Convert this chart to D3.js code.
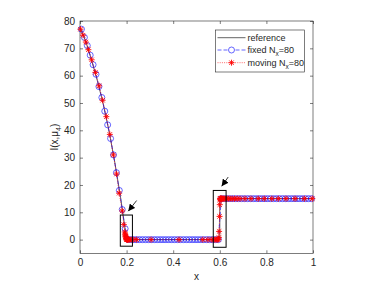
<!DOCTYPE html>
<html>
<head>
<meta charset="utf-8">
<script src="https://cdn.jsdelivr.net/npm/d3@7"></script>
<style>
  body { margin: 0; background: #fff; }
  svg { font-family: "Liberation Sans", Arial, sans-serif; }
  .tick text { fill: #262626; font-size: 10px; }
</style>
</head>
<body>
<div id="chart"></div>
<script>
// reference solution (piecewise)
var refX = [0, 0.025, 0.05, 0.075, 0.1, 0.125, 0.15, 0.175, 0.2, 0.6, 0.6, 1];
var refY = [77.5, 72.5, 65.5, 58, 49.5, 39.5, 28, 15, 0, 0, 15, 15];

// fixed mesh, Nx = 80 (cell centres)
var fixedX = [
  0.00625, 0.01875, 0.03125, 0.04375, 0.05625, 0.06875, 0.08125, 0.09375,
  0.10625, 0.11875, 0.13125, 0.14375, 0.15625, 0.16875, 0.18125, 0.19375,
  0.20625, 0.21875, 0.23125, 0.24375, 0.25625, 0.26875, 0.28125, 0.29375,
  0.30625, 0.31875, 0.33125, 0.34375, 0.35625, 0.36875, 0.38125, 0.39375,
  0.40625, 0.41875, 0.43125, 0.44375, 0.45625, 0.46875, 0.48125, 0.49375,
  0.50625, 0.51875, 0.53125, 0.54375, 0.55625, 0.56875, 0.58125, 0.59375,
  0.60625, 0.61875, 0.63125, 0.64375, 0.65625, 0.66875, 0.68125, 0.69375,
  0.70625, 0.71875, 0.73125, 0.74375, 0.75625, 0.76875, 0.78125, 0.79375,
  0.80625, 0.81875, 0.83125, 0.84375, 0.85625, 0.86875, 0.88125, 0.89375,
  0.90625, 0.91875, 0.93125, 0.94375, 0.95625, 0.96875, 0.98125, 0.99375
];
var fixedY = [
  77, 74, 71, 67.5, 64, 60.5, 56, 52,
  47, 42, 37, 31, 24.5, 18, 11, 4,
  0, 0, 0, 0, 0, 0, 0, 0,
  0, 0, 0, 0, 0, 0, 0, 0,
  0, 0, 0, 0, 0, 0, 0, 0,
  0, 0, 0, 0, 0, 0, 0, 0,
  15, 15, 15, 15, 15, 15, 15, 15,
  15, 15, 15, 15, 15, 15, 15, 15,
  15, 15, 15, 15, 15, 15, 15, 15,
  15, 15, 15, 15, 15, 15, 15, 15
];

// moving mesh, Nx = 80 (nodes cluster at the two kinks)
var movingX = [
  0.002, 0.013, 0.025, 0.036, 0.050, 0.066, 0.082, 0.097, 0.113, 0.128,
  0.143, 0.157, 0.168, 0.181, 0.188, 0.192, 0.194, 0.195, 0.196, 0.197,
  0.198, 0.199, 0.200, 0.201, 0.202, 0.203, 0.204, 0.206, 0.209, 0.213,
  0.219, 0.228, 0.243, 0.305, 0.425, 0.527, 0.549, 0.566, 0.576, 0.583,
  0.588, 0.592, 0.594, 0.596, 0.597, 0.599, 0.600, 0.601, 0.602, 0.603,
  0.604, 0.605, 0.606, 0.608, 0.611, 0.614, 0.618, 0.623, 0.629, 0.636,
  0.644, 0.653, 0.663, 0.675, 0.687, 0.708, 0.734, 0.765, 0.791, 0.823,
  0.851, 0.884, 0.923, 0.963, 0.997
];
var movingY = [
  77, 74.8, 72.3, 69.5, 65.8, 61.2, 56.3, 51, 45, 38.5,
  31, 24, 17, 10.5, 5.5, 2.8, 2, 1.6, 1.2, 0.9,
  0.5, 0.3, 0.1, 0, 0, 0, 0, 0, 0, 0,
  0, 0, 0, 0, 0, 0, 0, 0, 0, 0,
  0, 0, 0.2, 0.8, 3, 8.5, 12.8, 14.6, 15, 15,
  15, 15, 15, 15, 15, 15, 15, 15, 15, 15,
  15, 15, 15, 15, 15, 15, 15, 15, 15, 15,
  15, 15, 15, 15, 15
];

var xTicks = [0, 0.2, 0.4, 0.6, 0.8, 1];
var yTicks = [0, 10, 20, 30, 40, 50, 60, 70, 80];

// zoom boxes [x0, x1, y0, y1] and arrows [xTail, yTail, xTip, yTip] in data units
var boxes = [[0.173, 0.225, -2.4, 9], [0.572, 0.627, -2.8, 18]];
var arrows = [[0.243, 14.3, 0.207, 10.4], [0.636, 22.9, 0.608, 19.5]];

var legendLabels = ["reference", "fixed N", "moving N"];

var width = 380, height = 285;
var svg = d3.select("#chart").append("svg")
    .attr("width", width)
    .attr("height", height);

var x = d3.scaleLinear().domain([0, 1]).range([80, 313]);
var y = d3.scaleLinear().domain([-5, 80]).range([253.3, 21]);

var axisColor = "#262626";

// axes (ticks point inward, MATLAB style with box on)
svg.append("g")
    .attr("transform", "translate(0," + y(-5) + ")")
    .call(d3.axisBottom(x).tickValues(xTicks).tickSize(-3).tickPadding(6)
        .tickFormat(function (d) { return d === 0 || d === 1 ? d : d3.format(".1f")(d); }));
svg.append("g")
    .attr("transform", "translate(0," + y(80) + ")")
    .call(d3.axisTop(x).tickValues(xTicks).tickSize(-3).tickFormat(""));
svg.append("g")
    .attr("transform", "translate(" + x(0) + ",0)")
    .call(d3.axisLeft(y).tickValues(yTicks).tickSize(-3).tickPadding(5));
svg.append("g")
    .attr("transform", "translate(" + x(1) + ",0)")
    .call(d3.axisRight(y).tickValues(yTicks).tickSize(-3).tickFormat(""));

svg.selectAll(".domain").remove();
svg.selectAll(".tick line").attr("stroke", axisColor).attr("stroke-width", 0.6);

svg.append("rect")
    .attr("x", x(0)).attr("y", y(80))
    .attr("width", x(1) - x(0)).attr("height", y(-5) - y(80))
    .attr("fill", "none").attr("stroke", axisColor).attr("stroke-width", 0.6);

// axis labels
svg.append("text")
    .attr("x", (x(0) + x(1)) / 2).attr("y", 280)
    .attr("text-anchor", "middle")
    .attr("font-size", 10).attr("fill", axisColor)
    .text("x");

var yl = svg.append("text")
    .attr("transform", "translate(58," + ((y(-5) + y(80)) / 2) + ") rotate(-90)")
    .attr("text-anchor", "middle")
    .attr("font-size", 10).attr("fill", axisColor);
yl.append("tspan").text("I(x,\u03bc");
yl.append("tspan").attr("font-size", 7).attr("dy", 3).text("4");
yl.append("tspan").attr("dy", -3).text(")");

// lines
var line = d3.line()
    .x(function (d) { return x(d[0]); })
    .y(function (d) { return y(d[1]); });

var refData = refX.map(function (v, i) { return [v, refY[i]]; });
var fixedData = fixedX.map(function (v, i) { return [v, fixedY[i]]; });
var movingData = movingX.map(function (v, i) { return [v, movingY[i]]; });

svg.append("path").datum(refData)
    .attr("d", line).attr("fill", "none")
    .attr("stroke", "#222").attr("stroke-width", 0.7);

svg.append("path").datum(fixedData)
    .attr("d", line).attr("fill", "none")
    .attr("stroke", "#0000ff").attr("stroke-width", 0.6)
    .attr("stroke-dasharray", "4,2");

svg.selectAll("circle.fixed").data(fixedData).enter()
    .append("circle").attr("class", "fixed")
    .attr("cx", function (d) { return x(d[0]); })
    .attr("cy", function (d) { return y(d[1]); })
    .attr("r", 3)
    .attr("fill", "none").attr("stroke", "#0000ff").attr("stroke-width", 0.6);

svg.append("path").datum(movingData)
    .attr("d", line).attr("fill", "none")
    .attr("stroke", "#ff0000").attr("stroke-width", 0.6)
    .attr("stroke-dasharray", "1,1.2");

// asterisk marker: plus and cross
var starPath = "M-3,0L3,0M0,-3L0,3M-2.2,-2.2L2.2,2.2M-2.2,2.2L2.2,-2.2";
svg.selectAll("path.moving").data(movingData).enter()
    .append("path").attr("class", "moving")
    .attr("transform", function (d) { return "translate(" + x(d[0]) + "," + y(d[1]) + ")"; })
    .attr("d", starPath)
    .attr("stroke", "#ff0000").attr("stroke-width", 0.9).attr("fill", "none");

// zoom boxes
svg.selectAll("rect.zoombox").data(boxes).enter()
    .append("rect").attr("class", "zoombox")
    .attr("x", function (d) { return x(d[0]); })
    .attr("y", function (d) { return y(d[3]); })
    .attr("width", function (d) { return x(d[1]) - x(d[0]); })
    .attr("height", function (d) { return y(d[2]) - y(d[3]); })
    .attr("fill", "none").attr("stroke", "#000").attr("stroke-width", 1);

// arrows
svg.append("defs").append("marker")
    .attr("id", "head")
    .attr("viewBox", "0 0 10 10")
    .attr("refX", 10).attr("refY", 5)
    .attr("markerWidth", 7).attr("markerHeight", 7)
    .attr("markerUnits", "userSpaceOnUse")
    .attr("orient", "auto")
    .append("path").attr("d", "M0,0L10,5L0,10Z").attr("fill", "#000");

svg.selectAll("line.arrow").data(arrows).enter()
    .append("line").attr("class", "arrow")
    .attr("x1", function (d) { return x(d[0]); })
    .attr("y1", function (d) { return y(d[1]); })
    .attr("x2", function (d) { return x(d[2]); })
    .attr("y2", function (d) { return y(d[3]); })
    .attr("stroke", "#000").attr("stroke-width", 0.8)
    .attr("marker-end", "url(#head)");

// legend
var lg = svg.append("g").attr("transform", "translate(215.5,30)");
lg.append("rect")
    .attr("width", 89).attr("height", 42)
    .attr("fill", "#fff").attr("stroke", axisColor).attr("stroke-width", 0.6);

var rows = [7.7, 20, 32.7];
var lx0 = 2, lx1 = 30, lmid = 16;

lg.append("line").attr("x1", lx0).attr("x2", lx1).attr("y1", rows[0]).attr("y2", rows[0])
    .attr("stroke", "#222").attr("stroke-width", 0.7);
lg.append("line").attr("x1", lx0).attr("x2", lx1).attr("y1", rows[1]).attr("y2", rows[1])
    .attr("stroke", "#0000ff").attr("stroke-width", 0.6).attr("stroke-dasharray", "4,2");
lg.append("circle").attr("cx", lmid).attr("cy", rows[1]).attr("r", 3)
    .attr("fill", "#fff").attr("stroke", "#0000ff").attr("stroke-width", 0.6);
lg.append("line").attr("x1", lx0).attr("x2", lx1).attr("y1", rows[2]).attr("y2", rows[2])
    .attr("stroke", "#ff0000").attr("stroke-width", 0.6).attr("stroke-dasharray", "1,1.2");
lg.append("path").attr("transform", "translate(" + lmid + "," + rows[2] + ")")
    .attr("d", starPath).attr("stroke", "#ff0000").attr("stroke-width", 0.9).attr("fill", "none");

legendLabels.forEach(function (lab, i) {
    var t = lg.append("text")
        .attr("x", 32).attr("y", rows[i] + 3)
        .attr("font-size", 9).attr("fill", axisColor)
        .text(lab);
    if (i > 0) {
        t.append("tspan").attr("font-size", 6.5).attr("dy", 3).text("x");
        t.append("tspan").attr("dy", -3).text("=80");
    }
});
</script>
</body>
</html>
